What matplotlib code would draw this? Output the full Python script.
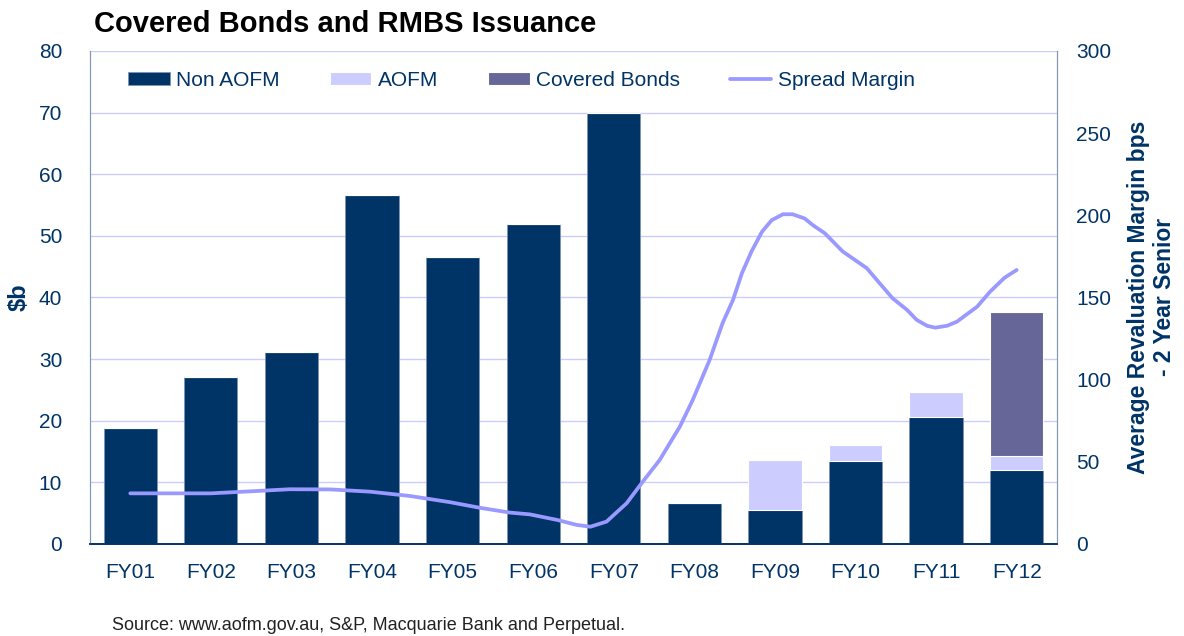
import matplotlib.pyplot as plt
import numpy as np

plt.rcParams['font.family'] = ['Liberation Sans', 'DejaVu Sans']

years = ['FY01', 'FY02', 'FY03', 'FY04', 'FY05', 'FY06', 'FY07',
         'FY08', 'FY09', 'FY10', 'FY11', 'FY12']
non_aofm = [18.8, 27.1, 31.2, 56.6, 46.6, 51.9, 69.9, 6.65, 5.5, 13.5, 20.6, 12.0]
aofm = [0, 0, 0, 0, 0, 0, 0, 0, 8.2, 2.6, 4.1, 2.2]
covered = [0, 0, 0, 0, 0, 0, 0, 0, 0, 0, 0, 23.5]

# spread margin, x in category units (0 = FY01)
spread_x = [0.0, 1.0, 1.48, 1.98, 2.48, 2.98, 3.47, 3.97, 4.34, 4.71, 4.96,
            5.30, 5.54, 5.71, 5.91, 6.16, 6.36, 6.57, 6.82, 6.98, 7.19, 7.35,
            7.48, 7.59, 7.71, 7.84, 7.96, 8.10, 8.22, 8.37, 8.47, 8.62, 8.84,
            9.14, 9.30, 9.46, 9.64, 9.76, 9.89, 9.99, 10.14, 10.26, 10.51,
            10.67, 10.85, 11.0]
spread = [30.8, 30.8, 32.0, 33.3, 33.2, 31.8, 29.2, 25.4, 22.0, 19.1, 18.0,
          14.6, 11.6, 10.5, 13.6, 24.8, 37.9, 51.1, 71.4, 87.6, 112, 134.3,
          148.5, 164.7, 178, 190, 197, 200.6, 200.6, 198, 194, 189, 178,
          167.8, 158.6, 149.5, 142.4, 136.3, 132.7, 131.6, 132.8, 135.3,
          144.4, 153.5, 162, 166.7]

navy = '#003366'
c_aofm = '#CCCCFF'
c_cov = '#666699'
c_line = '#9999FF'
grid_c = '#CCCCFF'

fig = plt.figure(figsize=(11.84, 6.36), dpi=100)
ax = fig.add_axes([0.076, 0.1447, 0.8167, 0.7753])
ax2 = ax.twinx()

x = np.arange(len(years))
w = 0.66
b1 = ax.bar(x, non_aofm, w, color=navy, edgecolor='#8094b0', linewidth=0.6, label='Non AOFM', zorder=3)
b2 = ax.bar(x, aofm, w, bottom=non_aofm, color=c_aofm, edgecolor='white', linewidth=0.8, label='AOFM', zorder=3)
bottom2 = np.array(non_aofm) + np.array(aofm)
b3 = ax.bar(x, covered, w, bottom=bottom2, color=c_cov, edgecolor='white', linewidth=0.8, label='Covered Bonds', zorder=3)

ln, = ax2.plot(spread_x, spread, color=c_line, lw=2.7, label='Spread Margin',
               solid_joinstyle='round', solid_capstyle='round')

ax.set_xlim(-0.5, 11.5)
ax.set_ylim(0, 80)
ax.set_yticks(np.arange(0, 81, 10))
ax.yaxis.grid(True, color=grid_c, lw=1)
ax.set_axisbelow(True)
ax2.set_ylim(0, 300)
ax2.set_yticks(np.arange(0, 301, 50))

ax.set_xticks(x)
ax.set_xticklabels(years)
ax.tick_params(axis='x', length=0, pad=14, labelsize=15, labelcolor=navy)
ax.tick_params(axis='y', length=0, pad=20, labelsize=15, labelcolor=navy)
ax2.tick_params(axis='y', length=0, pad=14, labelsize=15, labelcolor=navy)

for a in (ax, ax2):
    a.spines['top'].set_visible(False)
    a.spines['left'].set_color('#8497B0')
    a.spines['right'].set_color('#8497B0')
    a.spines['bottom'].set_color(navy)
    a.spines['bottom'].set_linewidth(1.2)

ax.set_ylabel('$b', fontsize=17, fontweight='bold', color=navy, labelpad=6)
ax2.set_ylabel('Average Revaluation Margin bps\n- 2 Year Senior', fontsize=16.5,
               fontweight='bold', color=navy, labelpad=11, linespacing=1.15)

fig.text(0.079, 0.963, 'Covered Bonds and RMBS Issuance', fontsize=21,
         fontweight='bold', va='center', ha='left')
fig.text(0.095, 0.003, 'Source: www.aofm.gov.au, S&P, Macquarie Bank and Perpetual.',
         fontsize=13, color='#222222', ha='left', va='bottom')

leg = ax2.legend([b1, b2, b3, ln], ['Non AOFM', 'AOFM', 'Covered Bonds', 'Spread Margin'],
                 loc='upper left', bbox_to_anchor=(0.02, 0.998), ncol=4, frameon=False,
                 fontsize=15, handlelength=2.0, handleheight=0.6, columnspacing=2.4,
                 handletextpad=0.3)
for t in leg.get_texts():
    t.set_color(navy)

fig.savefig('out.png', dpi=100)
